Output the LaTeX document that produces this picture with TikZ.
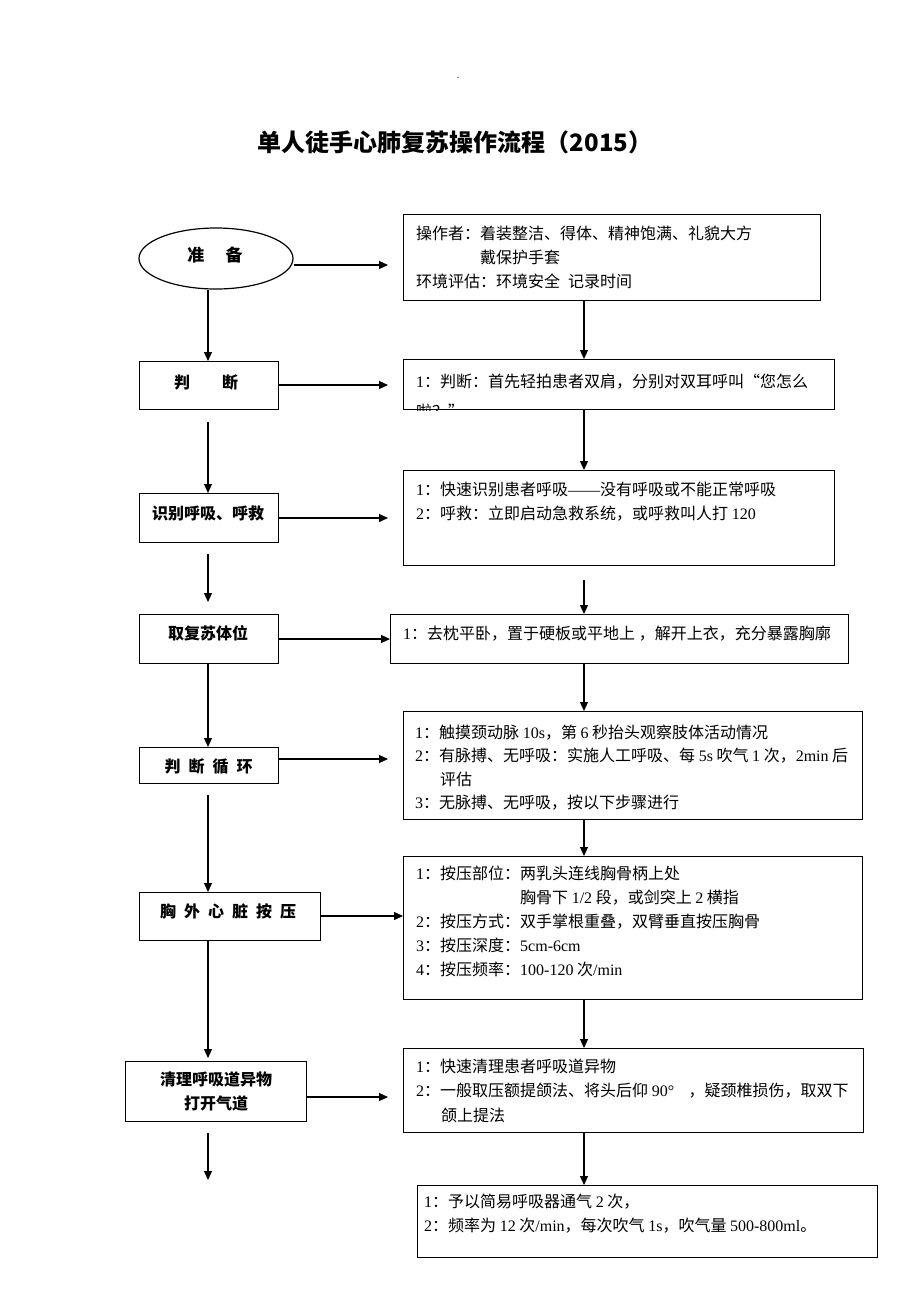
\documentclass[tikz,border=0pt]{standalone}
\usepackage{fontspec}
\setmainfont{Noto Sans CJK SC}
\newfontfamily\enfont{Liberation Serif}
\newcommand\en[1]{{\enfont #1}}
\usetikzlibrary{arrows.meta,shapes.geometric}
\tikzset{
  box/.style={draw, line width=1.2pt, inner sep=0pt, anchor=north west},
  oval/.style={draw, ellipse, line width=1.2pt, inner sep=0pt},
  lbl/.style={inner sep=0pt, font=\fontsize{16}{20}\selectfont\bfseries, text height=14pt, text depth=2pt},
  txt/.style={inner sep=0pt, anchor=west, font=\fontsize{16}{20}\selectfont, text height=14pt, text depth=2pt},
  arr/.style={line width=1.2pt, -{Triangle[length=9pt,width=8pt]}},
}
\begin{document}
\begin{tikzpicture}[x=1pt,y=-1pt]
\useasboundingbox (0,0) rectangle (920,1302);
\fill[white] (0,0) rectangle (920,1302);

% header
\node[inner sep=0pt, font=\fontsize{9}{9}\selectfont] (dot) at (458,78) {.};
\node[inner sep=0pt, font=\fontsize{24}{28}\selectfont\bfseries] (title) at (455,142) {单人徒手心肺复苏操作流程（2015）};

% left column
\node[oval, minimum width=154, minimum height=61] (l1) at (216,258.5) {};
\node[lbl, font=\fontsize{17}{20}\selectfont\bfseries] (l1t) at (215,255) {准\hspace{1.25em}备};
\node[box, minimum width=139, minimum height=48] (l2) at (139,361) {};
\node[lbl] (l2t) at (206,382) {判\hspace{2em}断};
\node[box, minimum width=139, minimum height=49] (l3) at (139,493) {};
\node[lbl] (l3t) at (208,513) {识别呼吸、呼救};
\node[box, minimum width=139, minimum height=49] (l4) at (139,614) {};
\node[lbl] (l4t) at (208,633) {取复苏体位};
\node[box, minimum width=139, minimum height=36] (l5) at (139,747) {};
\node[lbl] (l5t) at (208.5,766) {判\hspace{.5em}断\hspace{.5em}循\hspace{.5em}环};
\node[box, minimum width=181, minimum height=48] (l6) at (139,892) {};
\node[lbl] (l6t) at (228,911) {胸\hspace{.5em}外\hspace{.5em}心\hspace{.5em}脏\hspace{.5em}按\hspace{.5em}压};
\node[box, minimum width=181, minimum height=60] (l7) at (125,1061) {};
\node[lbl] (l7a) at (216,1079) {清理呼吸道异物};
\node[lbl] (l7b) at (216,1103) {打开气道};

% right column
\node[box, minimum width=417, minimum height=86] (r1) at (403,214) {};
\node[txt] (r1a) at (416,233) {操作者：着装整洁、得体、精神饱满、礼貌大方};
\node[txt] (r1b) at (480,257) {戴保护手套};
\node[txt] (r1c) at (416,281) {环境评估：环境安全\hspace{.5em}记录时间};

\node[box, minimum width=431, minimum height=50] (r2) at (403,359) {};
\begin{scope}
  \clip (r2.north west) rectangle (r2.south east);
  \node[txt] (r2a) at (416,381) {\en{1}：判断：首先轻拍患者双肩，分别对双耳呼叫“您怎么};
  \node[txt] (r2b) at (416,411) {啦？”};
\end{scope}

\node[box, minimum width=431, minimum height=95] (r3) at (403,470) {};
\node[txt] (r3a) at (416,489) {\en{1}：快速识别患者呼吸\en{——}没有呼吸或不能正常呼吸};
\node[txt] (r3b) at (416,513) {\en{2}：呼救：立即启动急救系统，或呼救叫人打 \en{120}};

\node[box, minimum width=458, minimum height=49] (r4) at (390,614) {};
\node[txt] (r4a) at (403,633) {\en{1}：去枕平卧，置于硬板或平地上 ，解开上衣，充分暴露胸廓};

\node[box, minimum width=459, minimum height=108] (r5) at (403,711) {};
\node[txt] (r5a) at (415,732) {\en{1}：触摸颈动脉 \en{10s}，第 \en{6} 秒抬头观察肢体活动情况};
\node[txt] (r5b) at (415,755.5) {\en{2}：有脉搏、无呼吸：实施人工呼吸、每 \en{5s} 吹气 \en{1} 次，\en{2min} 后};
\node[txt] (r5c) at (440,779) {评估};
\node[txt] (r5d) at (415,802.5) {\en{3}：无脉搏、无呼吸，按以下步骤进行};

\node[box, minimum width=459, minimum height=143] (r6) at (403,856) {};
\node[txt] (r6a) at (416,873) {\en{1}：按压部位：两乳头连线胸骨柄上处};
\node[txt] (r6b) at (520,897) {胸骨下 \en{1/2} 段，或剑突上 \en{2} 横指};
\node[txt] (r6c) at (416,921) {\en{2}：按压方式：双手掌根重叠，双臂垂直按压胸骨};
\node[txt] (r6d) at (416,945) {\en{3}：按压深度：\en{5cm-6cm}};
\node[txt] (r6e) at (416,969) {\en{4}：按压频率：\en{100-120} 次\en{/min}};

\node[box, minimum width=460, minimum height=84] (r7) at (403,1048) {};
\node[txt] (r7a) at (416,1066) {\en{1}：快速清理患者呼吸道异物};
\node[txt] (r7b) at (416,1090) {\en{2}：一般取压额提颌法、将头后仰 \en{90°}\hspace{0.9em}，疑颈椎损伤，取双下};
\node[txt] (r7c) at (441,1115) {颌上提法};

\node[box, minimum width=460, minimum height=72] (r8) at (417,1185) {};
\node[txt] (r8a) at (424,1201) {\en{1}：予以简易呼吸器通气 \en{2} 次，};
\node[txt] (r8b) at (424,1225) {\en{2}：频率为 \en{12} 次\en{/min}，每次吹气 \en{1s}，吹气量 \en{500-800ml}。};

% helper coordinates
\coordinate (xl) at (208,0);
\coordinate (xr) at (584,0);
\coordinate (h1) at (0,265);
\coordinate (h2) at (0,385);
\coordinate (h3) at (0,518);
\coordinate (h4) at (0,639);
\coordinate (h5) at (0,759);
\coordinate (h6) at (0,916);
\coordinate (h7) at (0,1097);
\coordinate (v5) at (208,422);
\coordinate (v8) at (208,554);
\coordinate (v9) at (584,580);
\coordinate (v14) at (208,795);
\coordinate (v20a) at (208,1133);
\coordinate (v20b) at (208,1180);

% horizontal arrows
\draw[arr, shorten >=15pt] (l1.east |- h1) -- (r1.west |- h1);
\draw[arr, shorten >=15pt] (l2.east |- h2) -- (r2.west |- h2);
\draw[arr, shorten >=15pt] (l3.east |- h3) -- (r3.west |- h3);
\draw[arr] (l4.east |- h4) -- (r4.west |- h4);
\draw[arr, shorten >=15pt] (l5.east |- h5) -- (r5.west |- h5);
\draw[arr] (l6.east |- h6) -- (r6.west |- h6);
\draw[arr, shorten >=15pt] (l7.east |- h7) -- (r7.west |- h7);

% left vertical arrows
\draw[arr] (l1.south -| xl) -- (l2.north -| xl);
\draw[arr] (v5) -- (v5 |- l3.north);
\draw[arr, shorten >=12pt] (v8) -- (v8 |- l4.north);
\draw[arr] (l4.south -| xl) -- (l5.north -| xl);
\draw[arr] (v14) -- (v14 |- l6.north);
\draw[arr, shorten >=3pt] (l6.south -| xl) -- (l7.north -| xl);
\draw[arr] (v20a) -- (v20b);

% right vertical arrows
\draw[arr] (r1.south -| xr) -- (r2.north -| xr);
\draw[arr] (r2.south -| xr) -- (r3.north -| xr);
\draw[arr] (v9) -- (v9 |- r4.north);
\draw[arr] (r4.south -| xr) -- (r5.north -| xr);
\draw[arr] (r5.south -| xr) -- (r6.north -| xr);
\draw[arr] (r6.south -| xr) -- (r7.north -| xr);
\draw[arr] (r7.south -| xr) -- (r8.north -| xr);
\end{tikzpicture}
\end{document}
